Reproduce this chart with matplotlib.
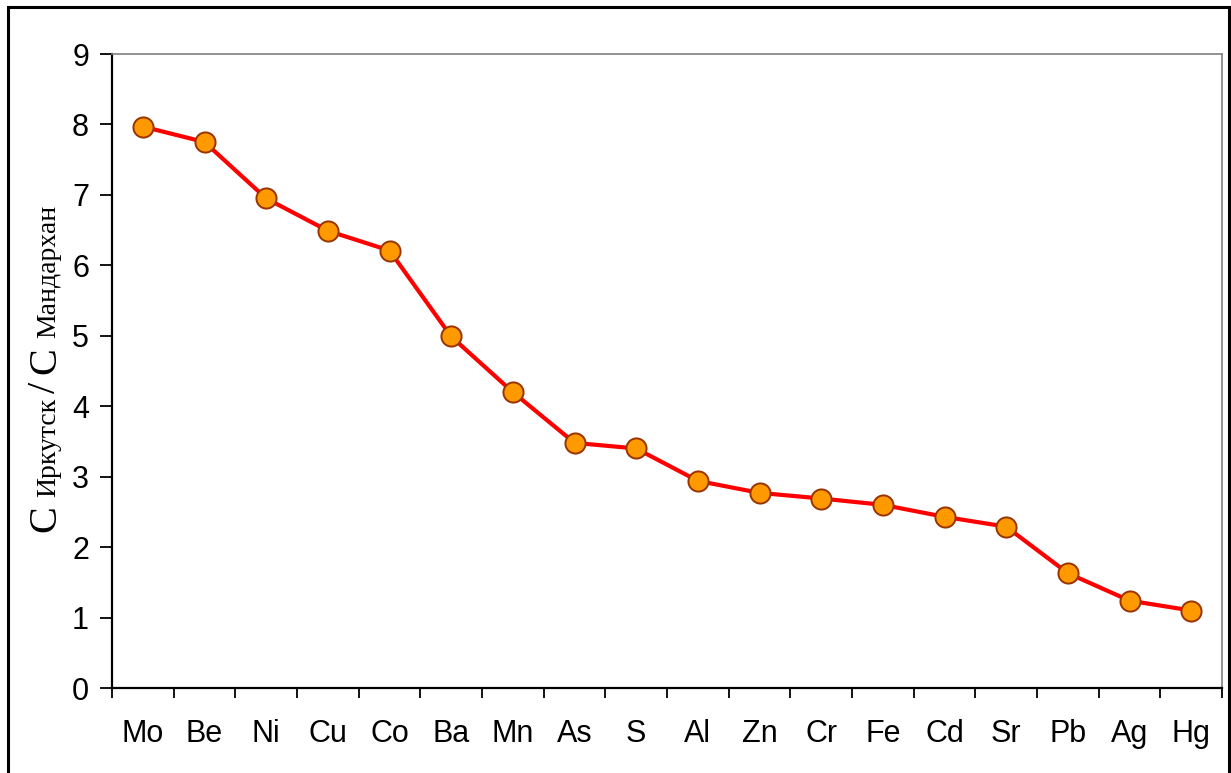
import numpy as np
import matplotlib
matplotlib.use('Agg')
import matplotlib.pyplot as plt
from matplotlib.patches import Rectangle
from matplotlib.ticker import FixedLocator

elements = ['Mo', 'Be', 'Ni', 'Cu', 'Co', 'Ba', 'Mn', 'As', 'S',
            'Al', 'Zn', 'Cr', 'Fe', 'Cd', 'Sr', 'Pb', 'Ag', 'Hg']
ratio = [7.97, 7.75, 6.95, 6.49, 6.21, 4.99, 4.20, 3.48, 3.40,
         2.94, 2.77, 2.69, 2.60, 2.43, 2.29, 1.63, 1.24, 1.10]
y_ticks = [0, 1, 2, 3, 4, 5, 6, 7, 8, 9]

W, H = 1231, 773
fig = plt.figure(figsize=(W / 100, H / 100), dpi=100)
fig.patch.set_facecolor('white')

# outer frame around the whole chart
fig.patches.append(Rectangle((8 / W, -0.05), (1229 - 8) / W, 1.05 - 7 / H,
                             transform=fig.transFigure, fill=False,
                             edgecolor='black', linewidth=2.2))

ax = fig.add_axes([112 / W, (H - 688) / H, 1110 / W, 634 / H])
x = np.arange(len(elements))
ax.plot(x, ratio, color='#ff0000', linewidth=3.0, marker='o',
        markersize=14.5, markerfacecolor='#ff9900',
        markeredgecolor='#993300', markeredgewidth=1.4, zorder=3)

ax.set_xlim(-0.5, len(elements) - 0.5)
ax.set_ylim(0, 9)
ax.set_yticks(y_ticks)

# boundaries get the tick marks, centres carry the labels
ax.xaxis.set_major_locator(FixedLocator(np.arange(len(elements) + 1) - 0.5))
ax.xaxis.set_major_formatter(plt.NullFormatter())
ax.xaxis.set_minor_locator(FixedLocator(x))
ax.set_xticklabels(elements, minor=True)

for lab in ax.get_xticklabels(minor=True) + ax.get_yticklabels():
    lab.set_fontfamily('Liberation Sans')
    lab.set_fontsize(22)

ax.tick_params(axis='x', which='major', direction='out', length=7.5,
               width=1.3, color='black')
ax.tick_params(axis='x', which='minor', length=0, pad=22)
ax.tick_params(axis='y', direction='out', length=8.5, width=1.3,
               color='black', pad=8)

for side in ['left', 'bottom']:
    ax.spines[side].set_color('black')
    ax.spines[side].set_linewidth(1.6)
for side in ['top', 'right']:
    ax.spines[side].set_color('#808080')
    ax.spines[side].set_linewidth(1.2)

# y label: C_Иркутск / C_Мандархан, built from pieces going upward
pieces = [('C', 29, 0), ('Иркутск', 20, 8), ('/', 29, 5),
          ('C', 29, 8), ('Мандархан', 20, 9)]
fig.canvas.draw()
renderer = fig.canvas.get_renderer()
texts = []
lengths = []
for s, size, gap in pieces:
    t = fig.text(0, 0, s, fontsize=size, family='Liberation Serif',
                 rotation=90, rotation_mode='anchor', ha='left',
                 va='baseline')
    bb = t.get_window_extent(renderer)
    texts.append(t)
    lengths.append(bb.height)
gaps = [p[2] for p in pieces]
total = sum(lengths) + sum(gaps)
centre = H - 368
ypos = centre - total / 2
for t, L, g in zip(texts, lengths, gaps):
    ypos += g
    t.set_position((55 / W, ypos / H))
    ypos += L

fig.savefig('out.png', dpi=100)
